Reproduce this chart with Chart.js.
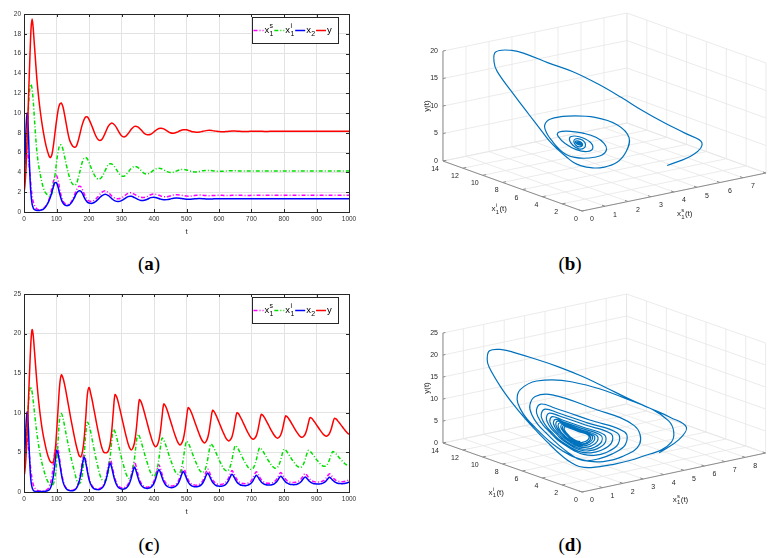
<!DOCTYPE html>
<html>
<head>
<meta charset="utf-8">
<script src="https://cdn.jsdelivr.net/npm/chart.js@4.4.1/dist/chart.umd.min.js"></script>
<style>
  body { margin: 0; background: #fff; width: 769px; height: 558px; position: relative; overflow: hidden; }
  canvas { position: absolute; }
  .cap { position: absolute; width: 100px; text-align: center; font: 19px "Liberation Serif", serif; line-height: 20px; color: #000; }
  .cap b { font-weight: bold; }
</style>
</head>
<body>
<canvas id="chart-a" width="360" height="240" style="left:0;top:0"></canvas>
<canvas id="chart-b" width="389" height="250" style="left:380px;top:0"></canvas>
<canvas id="chart-c" width="360" height="240" style="left:0;top:280px"></canvas>
<canvas id="chart-d" width="389" height="250" style="left:380px;top:280px"></canvas>
<div class="cap" style="left:99px;top:254px">(<b>a</b>)</div>
<div class="cap" style="left:520px;top:254px">(<b>b</b>)</div>
<div class="cap" style="left:99px;top:535px">(<b>c</b>)</div>
<div class="cap" style="left:520px;top:535px">(<b>d</b>)</div>
<script>
// Time grid for panels (a) and (b)
const tA = [
  0, 2, 4, 6, 8, 10, 12, 14, 16, 18, 20, 22, 25, 28, 30,
  35, 40, 45, 50, 55, 60, 65, 70, 75, 80, 85, 90, 95, 100,
  105, 110, 115, 120, 125, 130, 135, 140, 145, 150, 155, 160, 165, 170, 175, 180, 185, 190, 195, 200,
  210, 220, 230, 240, 250, 260, 270, 280, 290, 300,
  310, 320, 330, 340, 350, 360, 370, 380, 390, 400,
  410, 420, 430, 440, 450, 460, 470, 480, 490, 500,
  510, 520, 530, 540, 550, 560, 570, 580, 590, 600,
  610, 620, 630, 640, 650, 660, 670, 680, 690, 700,
  710, 720, 730, 740, 750, 760, 770, 780, 790, 800,
  810, 820, 830, 840, 850, 860, 870, 880, 890, 900,
  910, 920, 930, 940, 950, 960, 970, 980, 990, 1000
];

// Panel (a)
const xsA = [
  5.0, 6.4, 7.2, 7.0, 6.6, 6.2, 5.8, 5.3, 4.7, 3.9, 3.2, 2.5, 1.6, 1.1, 0.85,
  0.5, 0.3, 0.22, 0.2, 0.25, 0.35, 0.5, 0.75, 1.1, 1.6, 2.3, 3.0, 3.6, 3.7,
  3.2, 2.3, 1.55, 1.1, 0.88, 0.78, 0.76, 0.82, 1.0, 1.3, 1.7, 2.1, 2.45, 2.6, 2.55, 2.25, 1.85, 1.5, 1.25, 1.12,
  1.08, 1.28, 1.65, 2.0, 2.15, 1.95, 1.62, 1.4, 1.33, 1.43,
  1.65, 1.88, 1.93, 1.78, 1.6, 1.48, 1.47, 1.58, 1.75, 1.82,
  1.75, 1.63, 1.55, 1.55, 1.62, 1.72, 1.75, 1.72, 1.66, 1.61,
  1.6, 1.64, 1.69, 1.71, 1.69, 1.66, 1.65, 1.66, 1.68, 1.69,
  1.68, 1.67, 1.67, 1.68, 1.69, 1.69, 1.68, 1.67, 1.67, 1.68,
  1.68, 1.68, 1.68, 1.68, 1.68, 1.68, 1.68, 1.68, 1.68, 1.68,
  1.68, 1.68, 1.68, 1.68, 1.68, 1.68, 1.68, 1.68, 1.68, 1.68,
  1.68, 1.68, 1.68, 1.68, 1.68, 1.68, 1.68, 1.68, 1.68, 1.68
];
const xiA = [
  3.0, 3.6, 4.6, 5.8, 7.0, 8.2, 9.5, 10.7, 11.8, 12.5, 12.9, 12.85, 12.4, 11.4, 10.5,
  8.0, 6.0, 4.7, 3.8, 3.0, 2.4, 2.0, 1.8, 1.65, 1.6, 1.8, 2.5, 3.6, 5.0,
  6.1, 6.75, 6.75, 6.3, 5.6, 4.8, 4.1, 3.5, 3.05, 2.8, 2.7, 2.8, 3.2, 3.8, 4.5, 5.1, 5.45, 5.5, 5.35, 5.0,
  4.2, 3.55, 3.3, 3.55, 4.2, 4.8, 4.85, 4.5, 4.0, 3.65,
  3.65, 4.0, 4.4, 4.6, 4.5, 4.2, 3.9, 3.85, 4.0, 4.25,
  4.4, 4.4, 4.25, 4.08, 4.0, 4.02, 4.15, 4.27, 4.3, 4.25,
  4.15, 4.07, 4.05, 4.1, 4.17, 4.2, 4.2, 4.17, 4.13, 4.12,
  4.12, 4.14, 4.16, 4.17, 4.17, 4.15, 4.14, 4.14, 4.15, 4.15,
  4.15, 4.15, 4.15, 4.15, 4.15, 4.15, 4.15, 4.15, 4.15, 4.15,
  4.15, 4.15, 4.15, 4.15, 4.15, 4.15, 4.15, 4.15, 4.15, 4.15,
  4.15, 4.15, 4.15, 4.15, 4.15, 4.15, 4.15, 4.15, 4.15, 4.15
];
const x2A = [
  2.0, 4.0, 6.2, 8.2, 9.5, 10.0, 9.3, 7.6, 5.6, 3.8, 2.5, 1.6, 0.8, 0.45, 0.3,
  0.2, 0.15, 0.15, 0.17, 0.22, 0.3, 0.45, 0.7, 1.0, 1.4, 1.9, 2.5, 2.95, 2.95,
  2.5, 1.8, 1.25, 0.9, 0.72, 0.65, 0.65, 0.72, 0.9, 1.15, 1.45, 1.8, 2.05, 2.15, 2.1, 1.85, 1.5, 1.2, 1.0, 0.9,
  0.88, 1.05, 1.35, 1.65, 1.8, 1.65, 1.35, 1.12, 1.05, 1.15,
  1.35, 1.55, 1.58, 1.45, 1.28, 1.17, 1.18, 1.3, 1.45, 1.5,
  1.42, 1.3, 1.24, 1.25, 1.32, 1.4, 1.42, 1.4, 1.33, 1.29,
  1.28, 1.31, 1.35, 1.36, 1.35, 1.32, 1.31, 1.32, 1.34, 1.34,
  1.33, 1.33, 1.33, 1.33, 1.33, 1.33, 1.33, 1.33, 1.33, 1.33,
  1.33, 1.33, 1.33, 1.33, 1.33, 1.33, 1.33, 1.33, 1.33, 1.33,
  1.33, 1.33, 1.33, 1.33, 1.33, 1.33, 1.33, 1.33, 1.33, 1.33,
  1.33, 1.33, 1.33, 1.33, 1.33, 1.33, 1.33, 1.33, 1.33, 1.33
];
const yA = [
  2.0, 2.4, 3.2, 4.3, 5.8, 7.5, 9.5, 11.6, 13.6, 15.5, 17.3, 18.7, 19.5, 18.7, 17.8,
  15.5, 13.3, 11.6, 10.2, 9.0, 8.0, 7.1, 6.4, 5.85, 5.5, 5.7, 6.6, 7.9, 9.2,
  10.3, 10.9, 11.0, 10.6, 9.8, 8.9, 8.0, 7.3, 6.9, 6.65, 6.55, 6.6, 7.0, 7.6, 8.3, 8.9, 9.35, 9.6, 9.6, 9.35,
  8.6, 7.75, 7.25, 7.35, 8.0, 8.7, 9.0, 8.75, 8.2, 7.7,
  7.6, 7.9, 8.35, 8.65, 8.6, 8.3, 7.95, 7.8, 7.85, 8.1,
  8.35, 8.45, 8.4, 8.2, 8.0, 7.95, 8.05, 8.2, 8.3, 8.3,
  8.2, 8.1, 8.05, 8.07, 8.15, 8.22, 8.25, 8.22, 8.17, 8.12,
  8.1, 8.12, 8.15, 8.18, 8.18, 8.16, 8.14, 8.13, 8.14, 8.15,
  8.16, 8.16, 8.15, 8.14, 8.14, 8.15, 8.16, 8.16, 8.15, 8.15,
  8.15, 8.15, 8.15, 8.15, 8.15, 8.15, 8.15, 8.15, 8.15, 8.15,
  8.15, 8.15, 8.15, 8.15, 8.15, 8.15, 8.15, 8.15, 8.15, 8.15
];

// Time grid for panels (c) and (d)
const tC = [
  0, 2, 4, 6, 8, 10, 12, 14, 16, 18, 20, 22, 25, 28, 30,
  35, 40, 45, 50, 55, 60, 65, 70, 75, 80, 85, 90, 95, 100,
  105, 110, 115, 120, 125, 130, 135, 140, 145, 150, 155, 160, 165, 170, 175, 180, 185, 190, 195, 200,
  205, 210, 215, 220, 225, 230, 235, 240, 245, 250, 255, 260, 265, 270, 275, 280, 285, 290, 295, 300,
  305, 310, 315, 320, 325, 330, 335, 340, 345, 350, 355, 360, 365, 370, 375, 380, 385, 390, 395, 400,
  405, 410, 415, 420, 425, 430, 435, 440, 445, 450, 455, 460, 465, 470, 475, 480, 485, 490, 495, 500,
  505, 510, 515, 520, 525, 530, 535, 540, 545, 550, 555, 560, 565, 570, 575, 580, 585, 590, 595, 600,
  605, 610, 615, 620, 625, 630, 635, 640, 645, 650, 655, 660, 665, 670, 675, 680, 685, 690, 695, 700,
  705, 710, 715, 720, 725, 730, 735, 740, 745, 750, 755, 760, 765, 770, 775, 780, 785, 790, 795, 800,
  805, 810, 815, 820, 825, 830, 835, 840, 845, 850, 855, 860, 865, 870, 875, 880, 885, 890, 895, 900,
  905, 910, 915, 920, 925, 930, 935, 940, 945, 950, 955, 960, 965, 970, 975, 980, 985, 990, 995, 1000
];

// Panel (c)
const xsC = [
  5.0, 6.6, 7.6, 7.5, 7.1, 6.6, 6.1, 5.5, 4.8, 4.0, 3.2, 2.5, 1.6, 1.0, 0.75,
  0.4, 0.22, 0.15, 0.12, 0.12, 0.13, 0.17, 0.26, 0.45, 0.9, 1.8, 3.3, 5.2, 6.0,
  5.4, 4.05, 2.6, 1.5, 0.86, 0.5, 0.32, 0.25, 0.22, 0.22, 0.32, 0.5, 0.88, 1.55, 2.6, 4.0, 4.8, 4.0, 2.82, 1.81,
  1.15, 0.75, 0.53, 0.44, 0.41, 0.4, 0.48, 0.63, 0.93, 1.46, 2.3, 3.44, 4.2, 3.53, 2.54, 1.68, 1.13, 0.8, 0.61, 0.54,
  0.5, 0.57, 0.7, 0.96, 1.42, 2.15, 3.14, 3.8, 3.22, 2.36, 1.62, 1.14, 0.86, 0.7, 0.63, 0.6, 0.66, 0.77, 1.0, 1.4,
  2.03, 2.88, 3.45, 2.96, 2.24, 1.61, 1.21, 0.97, 0.83, 0.78, 0.75, 0.8, 0.89, 1.08, 1.41, 1.93, 2.63, 3.1, 2.7, 2.09,
  1.57, 1.23, 1.03, 0.92, 0.87, 0.85, 0.89, 0.97, 1.14, 1.42, 1.88, 2.49, 2.9, 2.55, 2.02, 1.57, 1.28, 1.11, 1.01, 0.97,
  0.95, 0.99, 1.06, 1.2, 1.44, 1.83, 2.35, 2.7, 2.4, 1.96, 1.58, 1.33, 1.18, 1.1, 1.07, 1.05, 1.08, 1.14, 1.26, 1.47,
  1.8, 2.25, 2.55, 2.29, 1.9, 1.56, 1.35, 1.22, 1.14, 1.11, 1.1, 1.13, 1.18, 1.29, 1.48, 1.78, 2.18, 2.45, 2.23, 1.89,
  1.6, 1.41, 1.3, 1.24, 1.21, 1.2, 1.22, 1.27, 1.36, 1.52, 1.78, 2.12, 2.35, 2.15, 1.86, 1.6, 1.44, 1.34, 1.28, 1.26,
  1.25, 1.27, 1.31, 1.4, 1.54, 1.78, 2.09, 2.3, 2.12, 1.85, 1.62, 1.47, 1.38, 1.33, 1.31, 1.3, 1.32, 1.36, 1.43, 1.55
];
const xiC = [
  2.5, 3.8, 5.1, 6.5, 7.8, 9.0, 10.2, 11.3, 12.3, 13.0, 13.3, 13.2, 12.6, 11.6, 10.9,
  9.0, 7.3, 5.9, 4.7, 3.7, 2.9, 2.2, 1.6, 1.2, 0.95, 0.85, 1.0, 1.7, 3.6,
  6.6, 9.4, 9.9, 9.3, 8.3, 7.2, 6.2, 5.2, 4.3, 3.4, 2.6, 1.8, 1.2, 1.05, 1.3, 2.4, 4.6, 7.3, 8.8, 8.43,
  7.62, 6.58, 5.54, 4.51, 3.62, 2.73, 1.99, 1.55, 1.42, 1.4, 1.73, 2.7, 4.33, 6.47, 7.9, 7.59, 6.91, 6.04, 5.17, 4.3,
  3.56, 2.82, 2.2, 1.82, 1.7, 1.98, 2.82, 4.22, 6.07, 7.3, 7.04, 6.45, 5.71, 4.97, 4.23, 3.59, 2.95, 2.42, 2.11, 2.0,
  2.24, 2.96, 4.16, 5.74, 6.8, 6.57, 6.07, 5.44, 4.8, 4.16, 3.62, 3.07, 2.61, 2.34, 2.25, 2.46, 3.08, 4.12, 5.49, 6.4,
  6.2, 5.77, 5.22, 4.66, 4.11, 3.64, 3.16, 2.77, 2.53, 2.45, 2.63, 3.17, 4.07, 5.26, 6.05, 5.88, 5.51, 5.03, 4.55, 4.08,
  3.67, 3.26, 2.92, 2.72, 2.65, 2.81, 3.29, 4.09, 5.15, 5.85, 5.7, 5.37, 4.95, 4.53, 4.11, 3.75, 3.39, 3.09, 2.91, 2.85,
  2.99, 3.4, 4.09, 4.99, 5.6, 5.47, 5.18, 4.82, 4.46, 4.09, 3.78, 3.47, 3.21, 3.05, 3.0, 3.12, 3.48, 4.08, 4.87, 5.4,
  5.29, 5.03, 4.71, 4.39, 4.07, 3.79, 3.51, 3.28, 3.15, 3.1, 3.21, 3.53, 4.07, 4.78, 5.25, 5.15, 4.93, 4.65, 4.37, 4.09,
  3.85, 3.61, 3.41, 3.29, 3.25, 3.34, 3.62, 4.08, 4.69, 5.1, 5.01, 4.82, 4.58, 4.33, 4.09, 3.88, 3.67, 3.49, 3.39, 3.35
];
const x2C = [
  2.0, 4.0, 6.3, 8.3, 9.6, 10.1, 9.4, 7.6, 5.4, 3.5, 2.1, 1.2, 0.55, 0.25, 0.15,
  0.08, 0.05, 0.05, 0.05, 0.05, 0.06, 0.08, 0.12, 0.2, 0.4, 0.9, 1.9, 3.5, 5.25,
  4.8, 3.55, 2.26, 1.28, 0.72, 0.41, 0.25, 0.18, 0.15, 0.15, 0.24, 0.4, 0.75, 1.34, 2.28, 3.55, 4.4, 3.7, 2.6, 1.6,
  1.0, 0.63, 0.42, 0.34, 0.31, 0.3, 0.37, 0.5, 0.77, 1.24, 1.98, 2.98, 3.65, 3.06, 2.17, 1.41, 0.91, 0.61, 0.45, 0.38,
  0.35, 0.41, 0.52, 0.74, 1.13, 1.75, 2.59, 3.15, 2.66, 1.94, 1.31, 0.91, 0.67, 0.53, 0.48, 0.45, 0.5, 0.59, 0.79, 1.12,
  1.65, 2.37, 2.85, 2.44, 1.82, 1.29, 0.94, 0.73, 0.62, 0.57, 0.55, 0.59, 0.67, 0.84, 1.12, 1.58, 2.19, 2.6, 2.25, 1.72,
  1.27, 0.98, 0.81, 0.71, 0.67, 0.65, 0.69, 0.76, 0.9, 1.14, 1.53, 2.05, 2.4, 2.1, 1.64, 1.26, 1.01, 0.85, 0.77, 0.74,
  0.72, 0.75, 0.81, 0.93, 1.15, 1.49, 1.94, 2.25, 1.99, 1.6, 1.26, 1.05, 0.92, 0.84, 0.81, 0.8, 0.83, 0.88, 0.98, 1.16,
  1.45, 1.84, 2.1, 1.88, 1.55, 1.26, 1.08, 0.97, 0.91, 0.88, 0.87, 0.89, 0.94, 1.03, 1.19, 1.44, 1.77, 2.0, 1.81, 1.52,
  1.27, 1.11, 1.02, 0.96, 0.94, 0.93, 0.95, 0.99, 1.07, 1.2, 1.42, 1.71, 1.9, 1.74, 1.5, 1.29, 1.15, 1.07, 1.03, 1.01,
  1.0, 1.02, 1.05, 1.12, 1.24, 1.43, 1.68, 1.85, 1.71, 1.49, 1.31, 1.19, 1.11, 1.07, 1.06, 1.05, 1.07, 1.1, 1.16, 1.26
];
const yC = [
  2.0, 2.4, 3.2, 4.4, 5.9, 7.7, 9.7, 11.9, 14.0, 16.0, 17.9, 19.4, 20.5, 19.9, 19.0,
  16.3, 13.7, 11.5, 9.7, 8.2, 7.0, 6.0, 5.1, 4.4, 3.9, 3.7, 3.8, 4.8, 7.4,
  10.6, 13.6, 14.8, 14.4, 13.55, 12.5, 11.35, 10.2, 9.05, 8.0, 6.96, 6.0, 5.2, 4.56, 4.45, 5.1, 6.7, 9.4, 12.3, 13.2,
  12.47, 11.55, 10.46, 9.38, 8.29, 7.29, 6.29, 5.53, 5.05, 4.95, 4.97, 5.24, 6.05, 7.74, 10.24, 12.3, 12.02, 11.32, 10.48, 9.57,
  8.66, 7.75, 6.91, 6.14, 5.58, 5.3, 5.55, 6.25, 7.71, 9.87, 11.65, 11.41, 10.82, 10.1, 9.33, 8.56, 7.78, 7.07, 6.41, 5.94,
  5.7, 5.92, 6.51, 7.75, 9.59, 11.1, 10.89, 10.38, 9.76, 9.09, 8.42, 7.75, 7.13, 6.57, 6.16, 5.95, 6.14, 6.66, 7.74, 9.33,
  10.65, 10.47, 10.03, 9.49, 8.91, 8.34, 7.76, 7.22, 6.73, 6.38, 6.2, 6.36, 6.82, 7.76, 9.15, 10.3, 10.15, 9.76, 9.3, 8.8,
  8.3, 7.8, 7.34, 6.91, 6.6, 6.45, 6.59, 6.98, 7.8, 9.01, 10.0, 9.87, 9.53, 9.13, 8.69, 8.26, 7.82, 7.42, 7.05, 6.78,
  6.65, 6.78, 7.12, 7.85, 8.92, 9.8, 9.68, 9.38, 9.02, 8.63, 8.24, 7.85, 7.49, 7.16, 6.92, 6.8, 6.91, 7.22, 7.86, 8.82,
  9.6, 9.49, 9.22, 8.9, 8.55, 8.2, 7.85, 7.52, 7.22, 7.01, 6.9, 7.0, 7.28, 7.85, 8.7, 9.4, 9.31, 9.07, 8.79, 8.48,
  8.18, 7.87, 7.59, 7.33, 7.14, 7.05, 7.14, 7.39, 7.91, 8.67, 9.3, 9.22, 9.01, 8.75, 8.48, 8.21, 7.94, 7.68, 7.45, 7.28
];

// Tick labels
const tTicks = [0, 100, 200, 300, 400, 500, 600, 700, 800, 900, 1000];
const yTicksA = [0, 2, 4, 6, 8, 10, 12, 14, 16, 18, 20];
const yTicksC = [0, 5, 10, 15, 20, 25];
const xsTicksB = [0, 1, 2, 3, 4, 5, 6, 7, 8];
const xsTicksD = [0, 1, 2, 3, 4, 5, 6, 7, 8, 9];
const xiTicks = [0, 2, 4, 6, 8, 10, 12, 14];
const zTicksB = [0, 5, 10, 15, 20];
const zTicksD = [0, 5, 10, 15, 20, 25];

const FONT = "'Liberation Sans', Arial, sans-serif";
Chart.defaults.font.family = FONT;

const colors = { xs: "#ff00ff", xi: "#00e000", x2: "#0000ff", y: "#ff0000", traj: "#0072bd" };
const dashDot = [4, 2, 1, 2];

// draws x_1^s style labels, returns the end x
function mathText(ctx, x, y, base, sub, sup, tail, size) {
  ctx.textBaseline = "middle";
  ctx.textAlign = "left";
  ctx.font = size + "px " + FONT;
  ctx.fillText(base, x, y);
  x += ctx.measureText(base).width;
  let w = 0;
  const small = Math.round(size * 0.75);
  ctx.font = small + "px " + FONT;
  if (sub) { ctx.fillText(sub, x + 0.3, y + size * 0.4); w = ctx.measureText(sub).width; }
  if (sup) { ctx.fillText(sup, x + 0.3, y - size * 0.45); w = Math.max(w, ctx.measureText(sup).width); }
  x += w + 0.6;
  if (tail) {
    ctx.font = size + "px " + FONT;
    ctx.fillText(tail, x, y);
    x += ctx.measureText(tail).width;
  }
  return x;
}

// MATLAB-like box with inward ticks
const boxPlugin = {
  id: "box",
  afterDatasetsDraw(chart) {
    const { ctx, chartArea: a, scales } = chart;
    ctx.save();
    ctx.strokeStyle = "#262626";
    ctx.lineWidth = 1;
    ctx.strokeRect(Math.round(a.left) + 0.5, Math.round(a.top) + 0.5, Math.round(a.right - a.left), Math.round(a.bottom - a.top));
    ctx.beginPath();
    scales.x.ticks.forEach(t => {
      const px = Math.round(scales.x.getPixelForValue(t.value)) + 0.5;
      ctx.moveTo(px, a.bottom); ctx.lineTo(px, a.bottom - 3);
      ctx.moveTo(px, a.top); ctx.lineTo(px, a.top + 3);
    });
    scales.y.ticks.forEach(t => {
      const py = Math.round(scales.y.getPixelForValue(t.value)) + 0.5;
      ctx.moveTo(a.left, py); ctx.lineTo(a.left + 3, py);
      ctx.moveTo(a.right, py); ctx.lineTo(a.right - 3, py);
    });
    ctx.stroke();
    ctx.restore();
  }
};

// legend with sub/superscripts
const legendPlugin = {
  id: "mathLegend",
  afterDraw(chart) {
    const { ctx, chartArea: a } = chart;
    const w = 86, h = 26;
    const left = a.right - 11 - w, top = a.top + 3;
    ctx.save();
    ctx.fillStyle = "#fff";
    ctx.fillRect(left, top, w, h);
    ctx.strokeStyle = "#262626";
    ctx.lineWidth = 1;
    ctx.strokeRect(Math.round(left) + 0.5, Math.round(top) + 0.5, w, h);
    const entries = [
      { c: colors.xs, d: dashDot, base: "x", sub: "1", sup: "s" },
      { c: colors.xi, d: dashDot, base: "x", sub: "1", sup: "i" },
      { c: colors.x2, d: [], base: "x", sub: "2", sup: "" },
      { c: colors.y, d: [], base: "y", sub: "", sup: "" }
    ];
    let x = left + 1.5;
    const cy = top + h / 2 + 0.5;
    entries.forEach(e => {
      ctx.strokeStyle = e.c;
      ctx.lineWidth = 1.5;
      ctx.setLineDash(e.d);
      ctx.beginPath(); ctx.moveTo(x, cy); ctx.lineTo(x + 10, cy); ctx.stroke();
      ctx.setLineDash([]);
      ctx.fillStyle = "#000";
      x = mathText(ctx, x + 11, cy - 0.5, e.base, e.sub, e.sup, "", 9.5) + 0.6;
    });
    ctx.restore();
  }
};

function series(ts, vals, color, dash, order) {
  return {
    data: ts.map((t, i) => ({ x: t, y: vals[i] })),
    borderColor: color,
    borderWidth: 1.5,
    borderDash: dash,
    pointRadius: 0,
    tension: 0.35,
    fill: false,
    order: order
  };
}

function timeChart(id, ts, xs, xi, x2, y, yTicks) {
  return new Chart(document.getElementById(id), {
    type: "line",
    data: {
      datasets: [
        series(ts, xs, colors.xs, dashDot, 4),
        series(ts, xi, colors.xi, dashDot, 3),
        series(ts, x2, colors.x2, [], 2),
        series(ts, y, colors.y, [], 1)
      ]
    },
    options: {
      responsive: false,
      animation: false,
      events: [],
      layout: { padding: { left: 0, top: 14, right: 11, bottom: 0 } },
      plugins: { legend: { display: false }, tooltip: { enabled: false } },
      scales: {
        x: {
          type: "linear", min: 0, max: 1000,
          afterFit: s => { s.height = 28; },
          afterBuildTicks: s => { s.ticks = tTicks.map(v => ({ value: v })); },
          ticks: { autoSkip: false, maxRotation: 0, padding: 3, color: "#333", font: { size: 6.5 }, callback: v => String(v) },
          grid: { color: "#e3e3e3", lineWidth: 1, drawTicks: false },
          border: { display: false },
          title: { display: true, text: "t", color: "#333", font: { size: 8 }, padding: { top: 0, bottom: 3 } }
        },
        y: {
          min: 0, max: yTicks[yTicks.length - 1],
          afterFit: s => { s.width = 24; },
          afterBuildTicks: s => { s.ticks = yTicks.map(v => ({ value: v })); },
          ticks: { autoSkip: false, padding: 3, color: "#333", font: { size: 6.5 }, callback: v => String(v) },
          grid: { color: "#e3e3e3", lineWidth: 1, drawTicks: false },
          border: { display: false }
        }
      }
    },
    plugins: [boxPlugin, legendPlugin]
  });
}

// 3D view: screen vectors of one unit along each axis (local canvas px)
const viewB = { o: [202, 211], ex: [23, -4.75], ei: [-9.93, -3.57], ez: [0, -5.5],
  xsTicks: xsTicksB, xiTicks: xiTicks, zTicks: zTicksB, xsOff: [12, 22], xiOff: [-12, 23] };
const viewD = { o: [202, 212], ex: [20.4, -4.33], ei: [-9.93, -3.5], ez: [0, -4.4],
  xsTicks: xsTicksD, xiTicks: xiTicks, zTicks: zTicksD, xsOff: [8, 27], xiOff: [-15, 25] };

function project(v, xs, xi, z) {
  return {
    x: v.o[0] + xs * v.ex[0] + xi * v.ei[0] + z * v.ez[0],
    y: v.o[1] + xs * v.ex[1] + xi * v.ei[1] + z * v.ez[1]
  };
}

const axes3d = {
  id: "axes3d",
  beforeDatasetsDraw(chart, args, v) {
    const { ctx, scales } = chart;
    const P = (xs, xi, z) => {
      const p = project(v, xs, xi, z);
      return [scales.x.getPixelForValue(p.x), scales.y.getPixelForValue(p.y)];
    };
    const seg = (a, b) => { ctx.moveTo(a[0], a[1]); ctx.lineTo(b[0], b[1]); };
    const xsM = v.xsTicks[v.xsTicks.length - 1];
    const xiM = v.xiTicks[v.xiTicks.length - 1];
    const zM = v.zTicks[v.zTicks.length - 1];
    ctx.save();
    // grid on floor and back walls
    ctx.strokeStyle = "#e6e6e6";
    ctx.lineWidth = 0.8;
    ctx.beginPath();
    v.xsTicks.forEach(s => {
      seg(P(s, 0, 0), P(s, xiM, 0));
      seg(P(s, xiM, 0), P(s, xiM, zM));
    });
    v.xiTicks.forEach(i => {
      seg(P(0, i, 0), P(xsM, i, 0));
      seg(P(xsM, i, 0), P(xsM, i, zM));
    });
    v.zTicks.forEach(z => {
      seg(P(0, xiM, z), P(xsM, xiM, z));
      seg(P(xsM, 0, z), P(xsM, xiM, z));
    });
    ctx.stroke();
    // axis lines and ticks
    ctx.strokeStyle = "#8c8c8c";
    ctx.lineWidth = 1;
    ctx.beginPath();
    seg(P(0, 0, 0), P(xsM, 0, 0));
    seg(P(0, 0, 0), P(0, xiM, 0));
    seg(P(0, xiM, 0), P(0, xiM, zM));
    v.xsTicks.forEach(s => seg(P(s, 0, 0), P(s, 0.3, 0)));
    v.xiTicks.forEach(i => seg(P(0, i, 0), P(0.15, i, 0)));
    v.zTicks.forEach(z => seg(P(0, xiM, z), P(0.12, xiM, z)));
    ctx.stroke();
    // tick labels
    ctx.fillStyle = "#262626";
    ctx.font = "7px " + FONT;
    ctx.textBaseline = "middle";
    ctx.textAlign = "right";
    v.zTicks.forEach(z => { const p = P(0, xiM, z); ctx.fillText(String(z), p[0] - 5, p[1]); });
    v.xiTicks.forEach(i => { const p = P(0, i, 0); ctx.fillText(String(i), p[0] - 4, p[1] + 8); });
    ctx.textAlign = "center";
    v.xsTicks.forEach(s => { const p = P(s, 0, 0); ctx.fillText(String(s), p[0] + 10, p[1] + 8.5); });
    // axis titles
    const pz = P(0, xiM, zM / 2);
    ctx.save();
    ctx.translate(pz[0] - 16, pz[1]);
    ctx.rotate(-Math.PI / 2);
    ctx.font = "8px " + FONT;
    ctx.textAlign = "center";
    ctx.textBaseline = "middle";
    ctx.fillText("y(t)", 0, 0);
    ctx.restore();
    const pi = P(0, xiM / 2, 0);
    mathText(ctx, pi[0] + v.xiOff[0] - 9, pi[1] + v.xiOff[1], "x", "1", "i", "(t)", 8);
    const ps = P(xsM / 2, 0, 0);
    mathText(ctx, ps[0] + v.xsOff[0] - 9, ps[1] + v.xsOff[1], "x", "1", "s", "(t)", 8);
    ctx.restore();
  }
};

function phaseChart(id, ts, xs, xi, y, view) {
  return new Chart(document.getElementById(id), {
    type: "scatter",
    data: {
      datasets: [{
        data: ts.map((t, i) => project(view, xs[i], xi[i], y[i])),
        showLine: true,
        borderColor: colors.traj,
        borderWidth: 1.2,
        pointRadius: 0,
        tension: 0.4,
        fill: false
      }]
    },
    options: {
      responsive: false,
      animation: false,
      events: [],
      layout: { padding: 0 },
      plugins: { legend: { display: false }, tooltip: { enabled: false }, axes3d: view },
      scales: {
        x: { type: "linear", min: 0, max: 389, display: false },
        y: { type: "linear", min: 0, max: 250, reverse: true, display: false }
      }
    },
    plugins: [axes3d]
  });
}

timeChart("chart-a", tA, xsA, xiA, x2A, yA, yTicksA);
timeChart("chart-c", tC, xsC, xiC, x2C, yC, yTicksC);
phaseChart("chart-b", tA, xsA, xiA, yA, viewB);
phaseChart("chart-d", tC, xsC, xiC, yC, viewD);
</script>
</body>
</html>
